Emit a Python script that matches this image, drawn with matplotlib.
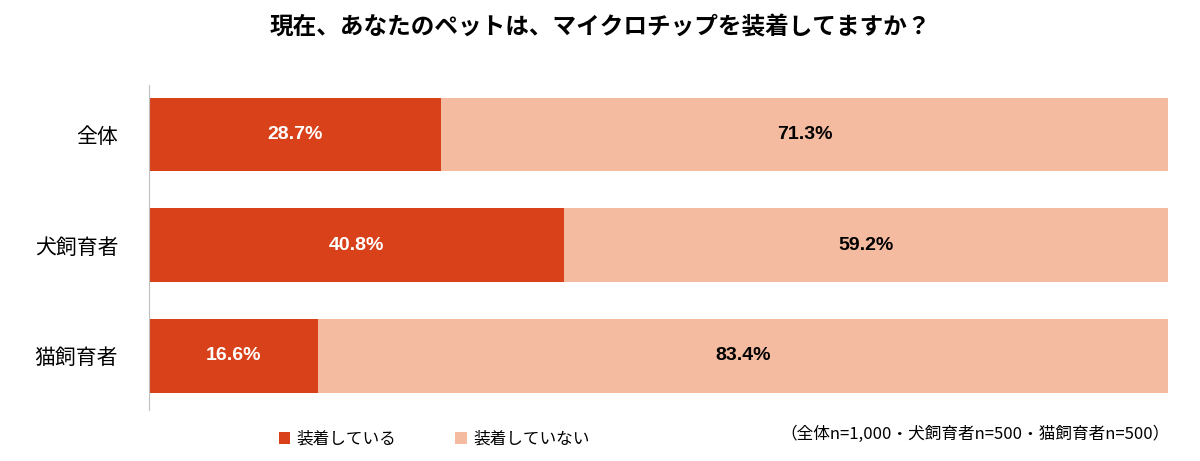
import matplotlib.pyplot as plt

plt.rcParams['font.family'] = ['Noto Sans CJK JP', 'DejaVu Sans']

groups = ['全体', '犬飼育者', '猫飼育者']
wearing = [28.7, 40.8, 16.6]
not_wearing = [71.3, 59.2, 83.4]
series_names = ['装着している', '装着していない']
note = '（全体n=1,000・犬飼育者n=500・猫飼育者n=500）'

dark = '#D9411A'
light = '#F5BBA0'

fig = plt.figure(figsize=(12, 4.61), dpi=100)
ax = fig.add_axes([0.124, 0.111, 0.849, 0.705])

pos = list(range(len(groups)))
ax.barh(pos, wearing, height=0.667, color=dark, label=series_names[0])
ax.barh(pos, not_wearing, left=wearing, height=0.667, color=light, label=series_names[1])

for i in pos:
    ax.text(wearing[i] / 2, i, f'{wearing[i]:.1f}%', ha='center', va='center',
            color='white', fontsize=14, fontweight='bold', family='Liberation Sans')
    ax.text(wearing[i] + not_wearing[i] / 2, i, f'{not_wearing[i]:.1f}%', ha='center',
            va='center', color='black', fontsize=14, fontweight='bold', family='Liberation Sans')

ax.set_xlim(0, 100)
ax.set_ylim(2.49, -0.45)
ax.set_yticks(pos)
ax.set_yticklabels(groups, fontsize=15)
ax.set_xticks([])
ax.tick_params(axis='y', length=0, pad=22)
for s in ['top', 'right', 'bottom']:
    ax.spines[s].set_visible(False)
ax.spines['left'].set_color('#BFBFBF')

fig.text(0.5, 0.94, '現在、あなたのペットは、マイクロチップを装着してますか？',
         ha='center', va='center', fontsize=17, fontweight='bold')

ax.legend(loc='center', bbox_to_anchor=(0.28, -0.09), ncol=2, frameon=False,
          fontsize=12, handlelength=0.7, handleheight=0.7, columnspacing=3.5,
          handletextpad=0.4)
fig.text(0.975, 0.057, note, ha='right', va='center', fontsize=12)

fig.savefig('out.png', dpi=100)
